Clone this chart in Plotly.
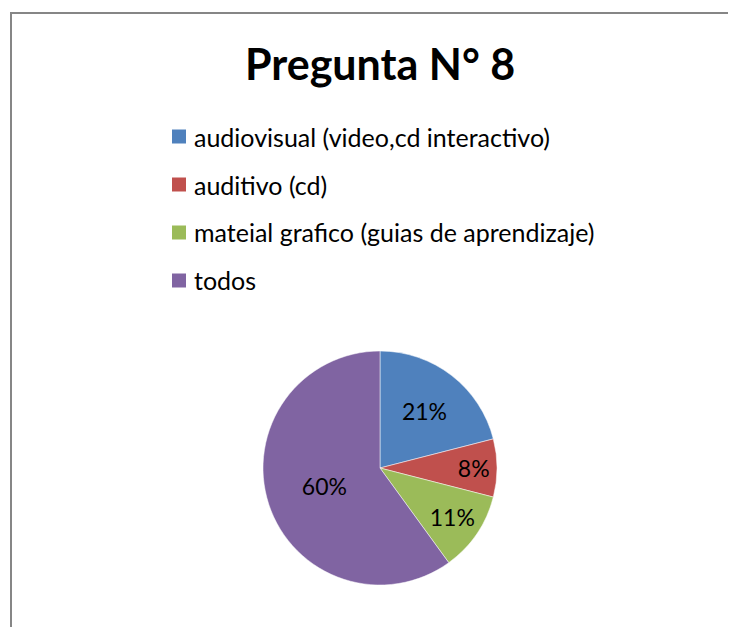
import plotly.graph_objects as go

W, H = 736, 627
OFF = 8  # page body margin offset

title_text = "Pregunta N° 8"
labels = ["audiovisual (video,cd interactivo)", "auditivo (cd)",
          "mateial grafico (guias de aprendizaje)", "todos"]
values = [21, 8, 11, 60]
colors = ["#4F81BD", "#C0504D", "#9BBB59", "#8064A2"]

FONT = "Lato, Calibri, Carlito, sans-serif"

def px(x):
    return (x - OFF) / W

def py(y):
    return 1 - (y - OFF) / H

fig = go.Figure()
cx, cy, r = 380, 468, 117
fig.add_trace(go.Pie(
    labels=labels, values=values, sort=False, direction="clockwise", rotation=0,
    marker=dict(colors=colors, line=dict(color="white", width=0.5)),
    texttemplate="%{percent:.0%}", textposition="inside", insidetextorientation="horizontal",
    textfont=dict(family=FONT, size=23, color="black"),
    domain=dict(x=[px(cx - r), px(cx + r)], y=[py(cy + r), py(cy - r)]),
    showlegend=False, hoverinfo="label+percent",
))

shapes = [
    dict(type="line", xref="paper", yref="paper", x0=px(11), x1=px(11), y0=py(13), y1=py(640),
         line=dict(color="#868686", width=2)),
    dict(type="line", xref="paper", yref="paper", x0=px(10), x1=px(750), y0=py(13), y1=py(13),
         line=dict(color="#868686", width=2)),
]
annotations = [dict(text="<b>" + title_text + "</b>", xref="paper", yref="paper",
                    x=px(380), y=py(64), xanchor="center", yanchor="middle",
                    showarrow=False, font=dict(family=FONT, size=43, color="black"))]

row0, gap = 136.5, 48
for i, (lab, col) in enumerate(zip(labels, colors)):
    yc = row0 + i * gap
    shapes.append(dict(type="rect", xref="paper", yref="paper",
                       x0=px(172), x1=px(186), y0=py(yc + 7), y1=py(yc - 7),
                       fillcolor=col, line=dict(width=0)))
    annotations.append(dict(text=lab, xref="paper", yref="paper", x=px(192), y=py(yc),
                            xanchor="left", yanchor="middle", showarrow=False,
                            font=dict(family=FONT, size=25, color="black")))

fig.update_layout(
    width=W, height=H, margin=dict(l=0, r=0, t=0, b=0),
    paper_bgcolor="white", plot_bgcolor="white",
    shapes=shapes, annotations=annotations, showlegend=False,
)
fig.write_html("out.html")
